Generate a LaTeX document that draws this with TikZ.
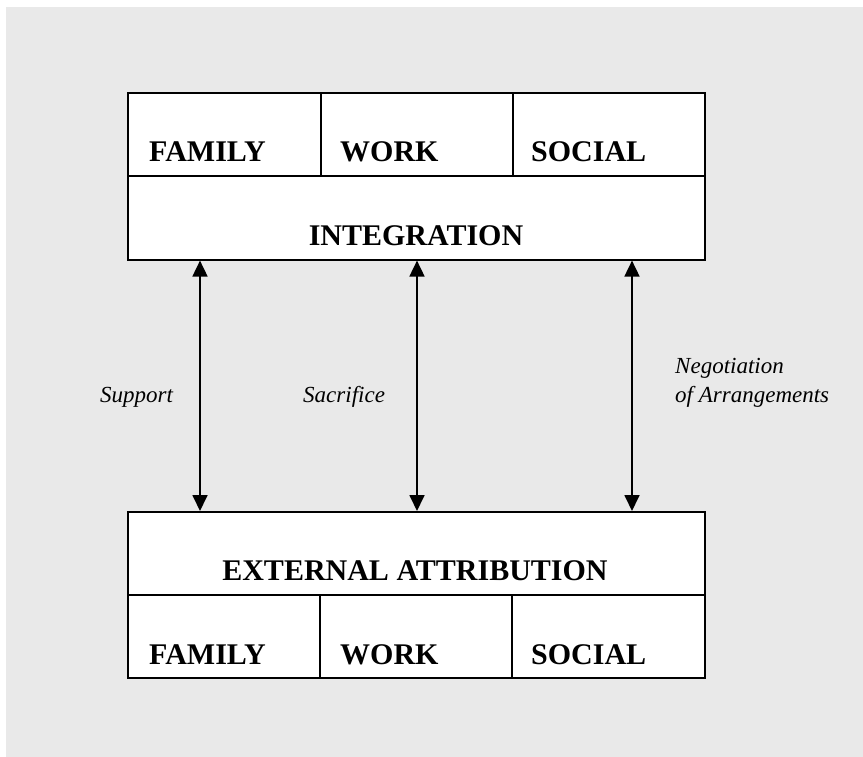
\documentclass[tikz,border=0pt]{standalone}
\usepackage{fontspec}
\setmainfont{Liberation Serif}
\usetikzlibrary{arrows.meta}
\definecolor{bgtex}{RGB}{233,233,233}
\begin{document}
\begin{tikzpicture}[x=1pt,y=-1pt,
  cell/.style={draw=black,line width=1.6pt,fill=white,inner sep=0pt,anchor=north west},
  lab/.style={font=\fontsize{30}{33}\selectfont\bfseries,anchor=base west,inner sep=0pt},
  clab/.style={font=\fontsize{30}{33}\selectfont\bfseries,anchor=base,inner sep=0pt},
  elab/.style={font=\fontsize{23}{28}\selectfont\itshape,inner sep=0pt},
  arr/.style={line width=1.8pt,{Triangle[width=15pt,length=16pt]}-{Triangle[width=15pt,length=16pt]}}]
\useasboundingbox (0,0) rectangle (863,757);
\fill[white] (0,0) rectangle (863,757);
\fill[bgtex] (6,7) rectangle (863,757);
% top box
\node[cell,minimum width=193pt,minimum height=83pt] (famT) at (127,92) {};
\node[cell,minimum width=192pt,minimum height=83pt] (workT) at (320,92) {};
\node[cell,minimum width=192pt,minimum height=83pt] (socT) at (512,92) {};
\node[cell,minimum width=577pt,minimum height=84pt] (integ) at (127,175) {};
\node[lab] (tfam) at (149,162) {FAMILY};
\node[lab] (twork) at (340,162) {WORK};
\node[lab] (tsoc) at (531,162) {SOCIAL};
\node[clab] (tint) at (416,246) {INTEGRATION};
% bottom box
\node[cell,minimum width=577pt,minimum height=83pt] (ext) at (127,511) {};
\node[cell,minimum width=192pt,minimum height=83pt] (famB) at (127,594) {};
\node[cell,minimum width=192pt,minimum height=83pt] (workB) at (319,594) {};
\node[cell,minimum width=193pt,minimum height=83pt] (socB) at (511,594) {};
\node[clab] (text) at (415,580) {EXTERNAL ATTRIBUTION};
\node[lab] (bfam) at (149,664) {FAMILY};
\node[lab] (bwork) at (340,664) {WORK};
\node[lab] (bsoc) at (531,664) {SOCIAL};
% connectors
\coordinate (c1) at (200,0);
\coordinate (c2) at (417,0);
\coordinate (c3) at (632,0);
\draw[arr] (integ.south -| c1) -- (ext.north -| c1);
\draw[arr] (integ.south -| c2) -- (ext.north -| c2);
\draw[arr] (integ.south -| c3) -- (ext.north -| c3);
% labels
\node[elab,anchor=base west] (l1) at (100,402) {Support};
\node[elab,anchor=base west] (l2) at (303,402) {Sacrifice};
\node[elab,anchor=base west] (l3a) at (675,373) {Negotiation};
\node[elab,anchor=base west] (l3b) at (675,402) {of Arrangements};
\end{tikzpicture}
\end{document}
